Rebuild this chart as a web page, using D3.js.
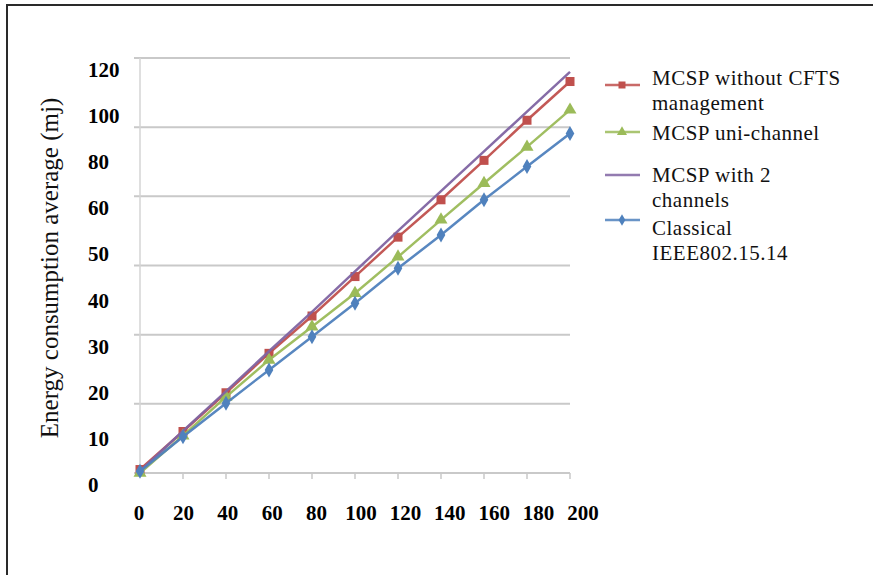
<!DOCTYPE html>
<html>
<head>
<meta charset="utf-8">
<script src="https://cdn.jsdelivr.net/npm/d3@7"></script>
<style>
  body { margin: 0; background: #fff; }
  svg { display: block; }
</style>
</head>
<body>
<svg width="873" height="575"></svg>
<script>
const xValues = [0, 20, 40, 60, 80, 100, 120, 140, 160, 180, 200];
const withoutCfts = [1, 12, 23.2, 34.6, 45.4, 56.8, 68.2, 79, 90.4, 102, 113.2];
const uniChannel = [0, 10.8, 22, 32.7, 42.3, 52, 62.5, 73.2, 83.8, 94.3, 105];
const twoChannels = [0.5, 12.2, 23.6, 35.2, 46.6, 58.3, 70, 81.5, 93, 104.5, 116];
const classical = [0.5, 10.5, 20.2, 29.8, 39.4, 49.1, 59.2, 68.8, 79, 88.6, 98.2];
const gridValues = [0, 20, 40, 60, 80, 100, 120];
const yTickLabels = ['120', '100', '80', '60', '50', '40', '30', '20', '10', '0'];
const xTickLabels = [0, 20, 40, 60, 80, 100, 120, 140, 160, 180, 200];

const series = [
  {name: ['MCSP without CFTS', 'management'], values: withoutCfts, color: '#c0504d', marker: 'square'},
  {name: ['MCSP uni-channel'], values: uniChannel, color: '#9bbb59', marker: 'triangle'},
  {name: ['MCSP with 2', 'channels'], values: twoChannels, color: '#8064a2', marker: 'cross'},
  {name: ['Classical', 'IEEE802.15.14'], values: classical, color: '#4f81bd', marker: 'diamond'}
];

const svg = d3.select('svg');

// outer frame of the picture
svg.append('path')
    .attr('d', 'M7,580 L7,5 L880,5')
    .attr('fill', 'none')
    .attr('stroke', '#2a2a2a')
    .attr('stroke-width', 2);

const xScale = d3.scaleLinear().domain([0, 200]).range([140, 570]);
const yScale = d3.scaleLinear().domain([0, 120]).range([473, 58]);

// gridlines
svg.append('g')
    .selectAll('line')
    .data(gridValues)
    .join('line')
    .attr('x1', 134)
    .attr('x2', xScale(200))
    .attr('y1', d => yScale(d))
    .attr('y2', d => yScale(d))
    .attr('stroke', '#c9c9c9')
    .attr('stroke-width', 2);

// vertical axis line
svg.append('line')
    .attr('x1', xScale(0)).attr('x2', xScale(0))
    .attr('y1', yScale(120)).attr('y2', yScale(0))
    .attr('stroke', '#d4d4d4')
    .attr('stroke-width', 1.5);

// x tick marks
svg.append('g')
    .selectAll('line')
    .data(xValues.slice(1))
    .join('line')
    .attr('x1', d => xScale(d))
    .attr('x2', d => xScale(d))
    .attr('y1', yScale(0))
    .attr('y2', yScale(0) + 6)
    .attr('stroke', '#c9c9c9')
    .attr('stroke-width', 1.5);

// tick labels (placed on their own scales, as in the original figure)
const yLabelScale = d3.scalePoint().domain(yTickLabels).range([77, 492]);
svg.append('g')
    .selectAll('text')
    .data(yTickLabels)
    .join('text')
    .attr('x', 88)
    .attr('y', d => yLabelScale(d))
    .attr('font-family', 'Liberation Serif, serif')
    .attr('font-weight', 'bold')
    .attr('font-size', 21)
    .attr('fill', '#000')
    .text(d => d);

const xLabelScale = d3.scaleLinear().domain([0, 200]).range([139, 583]);
svg.append('g')
    .selectAll('text')
    .data(xTickLabels)
    .join('text')
    .attr('x', d => xLabelScale(d))
    .attr('y', 520)
    .attr('text-anchor', 'middle')
    .attr('font-family', 'Liberation Serif, serif')
    .attr('font-weight', 'bold')
    .attr('font-size', 21)
    .attr('fill', '#000')
    .text(d => d);

// y axis title
svg.append('text')
    .attr('transform', 'translate(58, 268) rotate(-90)')
    .attr('text-anchor', 'middle')
    .attr('font-family', 'Liberation Serif, serif')
    .attr('font-size', 25)
    .attr('fill', '#111')
    .text('Energy consumption average (mj)');

function drawMarker(g, type, color, x, y, size) {
  if (type === 'square') {
    g.append('rect')
        .attr('x', x - size / 2).attr('y', y - size / 2)
        .attr('width', size).attr('height', size)
        .attr('fill', color);
  } else if (type === 'triangle') {
    g.append('path')
        .attr('d', d3.symbol(d3.symbolTriangle, size * size * 0.9)())
        .attr('transform', `translate(${x}, ${y})`)
        .attr('fill', color);
  } else if (type === 'diamond') {
    g.append('path')
        .attr('d', d3.symbol(d3.symbolDiamond, size * size * 0.8)())
        .attr('transform', `translate(${x}, ${y})`)
        .attr('fill', color);
  } else {
    g.append('path')
        .attr('d', d3.symbol(d3.symbolTimes, size * size * 0.5)())
        .attr('transform', `translate(${x}, ${y})`)
        .attr('fill', color)
        .attr('opacity', 0.6);
  }
}

const line = d3.line()
    .x((d, i) => xScale(xValues[i]))
    .y(d => yScale(d));

series.forEach(s => {
  const g = svg.append('g');
  g.append('path')
      .attr('d', line(s.values))
      .attr('fill', 'none')
      .attr('stroke', s.color)
      .attr('stroke-width', 2.5)
      .attr('stroke-opacity', 0.95);
  s.values.forEach((v, i) => {
    drawMarker(g, s.marker, s.color, xScale(xValues[i]), yScale(v), 9);
  });
});

// legend
const legendLineY = [85, 132, 175, 220];
const legendBase = [[85, 110], [140], [182, 207], [235, 260]];
series.forEach((s, i) => {
  const g = svg.append('g');
  g.append('line')
      .attr('x1', 605).attr('x2', 640)
      .attr('y1', legendLineY[i]).attr('y2', legendLineY[i])
      .attr('stroke', s.color)
      .attr('stroke-width', 2.5)
      .attr('stroke-opacity', 0.85);
  if (s.marker !== 'cross') {
    drawMarker(g, s.marker, s.color, 622, legendLineY[i], 7);
  }
  s.name.forEach((t, j) => {
    g.append('text')
        .attr('x', 652)
        .attr('y', legendBase[i][j])
        .attr('font-family', 'Liberation Serif, serif')
        .attr('font-size', 21)
        .attr('letter-spacing', 0.5)
        .attr('fill', '#111')
        .text(t);
  });
});
</script>
</body>
</html>
